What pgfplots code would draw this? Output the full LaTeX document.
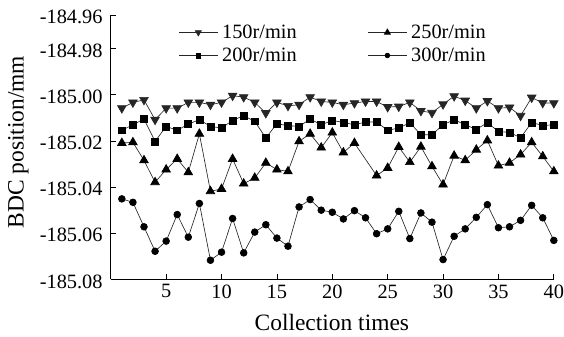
\documentclass[border=0pt]{standalone}
\usepackage{pgfplots}
\pgfplotsset{compat=1.18}
\usepackage{fontspec}
\setmainfont{Liberation Serif}
\begin{document}
\begin{tikzpicture}
\begin{axis}[
  scale only axis, width=444pt, height=265pt,
  at={(0pt,0pt)}, anchor=south west,
  axis lines=left, axis line style={line width=0.9pt, -},
  xmin=0, xmax=40, ymin=-185.08, ymax=-184.96541,
  xtick={5,10,...,40},
  ytick={-185.08,-185.06,-185.04,-185.02,-185.00,-184.98,-184.96541},
  yticklabels={-185.08,-185.06,-185.04,-185.02,-185.00,-184.98,-184.96},
  tick align=inside, major tick length=5pt,
  tick style={line width=0.8pt, black},
  /pgf/number format/assume math mode=true,
  ticklabel style={font=\fontsize{20.4}{22}\selectfont},
  xticklabel style={inner sep=0pt, anchor=north, yshift=-5pt},
  yticklabel style={inner sep=0pt, anchor=east, xshift=-8pt, yshift=-2pt},
  xlabel={Collection times},
  ylabel={BDC position/mm},
  label style={font=\fontsize{23.5}{26}\selectfont},
  xlabel style={at={(axis description cs:0.499,-0.1925)}, anchor=base},
  ylabel style={at={(axis description cs:-0.2083,0.519)}, anchor=center, rotate=0},
  every axis plot/.append style={line width=0.65pt, black!85, mark options={fill=black, draw=black, solid}},
  legend columns=2,
  legend cell align=left,
  legend image code/.code={\draw[mark repeat=2,mark phase=2,#1] plot coordinates {(0pt,0pt) (19.5pt,0pt) (39pt,0pt)};},
  legend image post style={every mark/.append style={scale=0.7}},
  legend style={draw=none, fill=none, inner sep=0pt, outer sep=0pt,
    at={(axis description cs:0.153,0.966)}, anchor=north west,
    font=\fontsize{20.4}{22}\selectfont,
    nodes={inner sep=1pt},
    row sep=6pt,
    /tikz/every odd column/.append style={column sep=3pt},
    /tikz/every even column/.append style={column sep=70pt}},
]
% 150 r/min
\addplot[mark=triangle*, mark size=5pt, mark options={rotate=180}] coordinates {
(1,-185.0058)(2,-185.0033)(3,-185.0022)(4,-185.0108)(5,-185.0058)(6,-185.0058)(7,-185.0033)(8,-185.0033)(9,-185.0043)(10,-185.0033)
(11,-185.0004)(12,-185.0010)(13,-185.0033)(14,-185.0079)(15,-185.0033)(16,-185.0048)(17,-185.0043)(18,-185.0010)(19,-185.0029)(20,-185.0033)
(21,-185.0043)(22,-185.0036)(23,-185.0029)(24,-185.0029)(25,-185.0053)(26,-185.0051)(27,-185.0033)(28,-185.0070)(29,-185.0078)(30,-185.0041)
(31,-185.0006)(32,-185.0025)(33,-185.0058)(34,-185.0027)(35,-185.0058)(36,-185.0055)(37,-185.0091)(38,-185.0012)(39,-185.0035)(40,-185.0036)};
\addlegendentry{150r/min}
% 250 r/min
\addplot[mark=triangle*, mark size=5pt] coordinates {
(1,-185.0209)(2,-185.0206)(3,-185.0284)(4,-185.0379)(5,-185.0324)(6,-185.0278)(7,-185.0336)(8,-185.0169)(9,-185.0418)(10,-185.0408)
(11,-185.0278)(12,-185.0385)(13,-185.0360)(14,-185.0295)(15,-185.0324)(16,-185.0332)(17,-185.0202)(18,-185.0169)(19,-185.0229)(20,-185.0164)
(21,-185.0250)(22,-185.0209)(24,-185.0350)(25,-185.0317)(26,-185.0226)(27,-185.0292)(28,-185.0225)(29,-185.0310)(30,-185.0389)
(31,-185.0264)(32,-185.0284)(33,-185.0238)(34,-185.0198)(35,-185.0307)(36,-185.0295)(37,-185.0259)(38,-185.0206)(39,-185.0267)(40,-185.0332)};
\addlegendentry{250r/min}
% 200 r/min
\addplot[mark=square*, mark size=3.5pt] coordinates {
(1,-185.0154)(2,-185.0130)(3,-185.0105)(4,-185.0202)(5,-185.0137)(6,-185.0154)(7,-185.0127)(8,-185.0108)(9,-185.0137)(10,-185.0144)
(11,-185.0111)(12,-185.0091)(13,-185.0115)(14,-185.0187)(15,-185.0125)(16,-185.0134)(17,-185.0137)(18,-185.0105)(19,-185.0130)(20,-185.0111)
(21,-185.0120)(22,-185.0130)(23,-185.0118)(24,-185.0118)(25,-185.0154)(26,-185.0144)(27,-185.0121)(28,-185.0173)(29,-185.0173)(30,-185.0130)
(31,-185.0108)(32,-185.0130)(33,-185.0150)(34,-185.0121)(35,-185.0159)(36,-185.0163)(37,-185.0186)(38,-185.0120)(39,-185.0133)(40,-185.0130)};
\addlegendentry{200r/min}
% 300 r/min
\addplot[mark=*, mark size=3.4pt] coordinates {
(1,-185.0451)(2,-185.0466)(3,-185.0572)(4,-185.0678)(5,-185.0634)(6,-185.0519)(7,-185.0617)(8,-185.0471)(9,-185.0717)(10,-185.0682)
(11,-185.0536)(12,-185.0685)(13,-185.0595)(14,-185.0563)(15,-185.0621)(16,-185.0656)(17,-185.0486)(18,-185.0454)(19,-185.0500)(20,-185.0509)
(21,-185.0538)(22,-185.0502)(23,-185.0533)(24,-185.0602)(25,-185.0581)(26,-185.0505)(27,-185.0623)(28,-185.0512)(29,-185.0552)(30,-185.0714)
(31,-185.0613)(32,-185.0581)(33,-185.0531)(34,-185.0476)(35,-185.0576)(36,-185.0572)(37,-185.0544)(38,-185.0479)(39,-185.0533)(40,-185.0631)};
\addlegendentry{300r/min}
\end{axis}
\path[use as bounding box] (-111pt,-57pt) rectangle (453pt,280pt);
\end{tikzpicture}
\end{document}
